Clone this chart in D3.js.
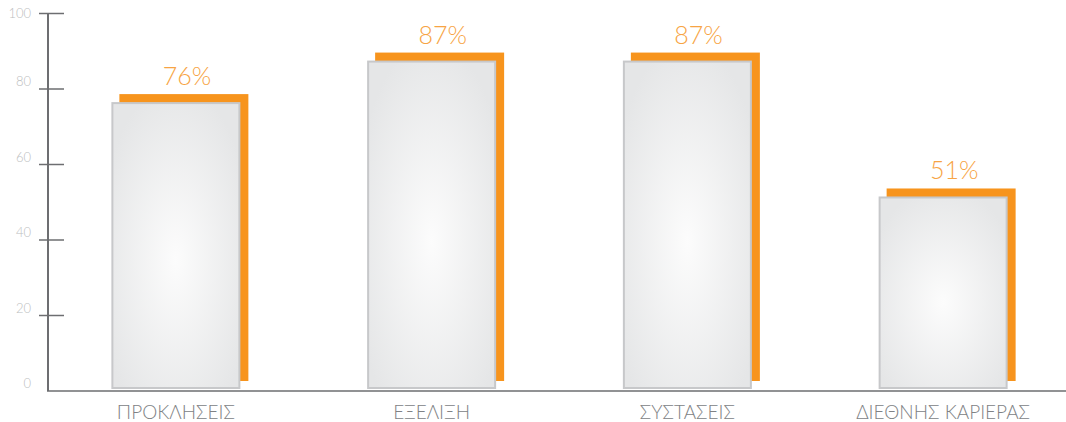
<!DOCTYPE html>
<html>
<head>
<meta charset="utf-8">
<script src="https://cdn.jsdelivr.net/npm/d3@7"></script>
<style>
  html, body { margin: 0; padding: 0; background: #fff; }
  svg { display: block; }
  text { font-family: "Lato Light", "Lato", "Open Sans", sans-serif; font-weight: 300; }
</style>
</head>
<body>
<svg id="chart" width="1066" height="422"></svg>
<script>
// Share of responses per topic (%)
const categories = ["ΠΡΟΚΛΗΣΕΙΣ", "ΕΞΕΛΙΞΗ", "ΣΥΣΤΑΣΕΙΣ", "ΔΙΕΘΝΗΣ ΚΑΡΙΕΡΑΣ"];
const values = [76, 87, 87, 51];
const tickValues = [0, 20, 40, 60, 80, 100];

const W = 1066, H = 422;
const svg = d3.select("#chart");

const axisColor = "#6d6e71";
const orange = "#f7941d";

const y = d3.scaleLinear().domain([0, 100]).range([391, 13.5]);
const x = d3.scaleBand().domain(categories).range([48, 1071]).padding(0);
const barW = 129;
const barLift = 2;          // bars sit just above the baseline
const shadowDx = 8, shadowDy = 8;

// gradient fill for the grey bars
const defs = svg.append("defs");
const grad = defs.append("radialGradient")
  .attr("id", "barFill")
  .attr("cx", "50%").attr("cy", "55%").attr("r", "62%");
grad.append("stop").attr("offset", "0%").attr("stop-color", "#fcfcfc");
grad.append("stop").attr("offset", "100%").attr("stop-color", "#e5e6e7");

const bars = svg.append("g").selectAll("g").data(categories).join("g");

// orange offset block behind each bar
bars.append("rect")
  .attr("x", d => x(d) + x.bandwidth() / 2 - barW / 2 + shadowDx)
  .attr("y", (d, i) => y(values[i]) - barLift - shadowDy)
  .attr("width", barW)
  .attr("height", (d, i) => y(0) - y(values[i]))
  .attr("fill", orange);

// grey bar
bars.append("rect")
  .attr("x", d => x(d) + x.bandwidth() / 2 - barW / 2 + 1)
  .attr("y", (d, i) => y(values[i]) - barLift + 1)
  .attr("width", barW - 2)
  .attr("height", (d, i) => y(0) - y(values[i]) - 2)
  .attr("fill", "url(#barFill)")
  .attr("stroke", "#c7c8ca")
  .attr("stroke-width", 2);

// value labels
bars.append("text")
  .attr("x", d => x(d) + x.bandwidth() / 2 + shadowDx + 3)
  .attr("y", (d, i) => y(values[i]) - barLift - shadowDy - 9)
  .attr("text-anchor", "middle")
  .attr("fill", "#f7a444")
  .attr("font-size", 25)
  .text((d, i) => values[i] + "%");

// category labels
bars.append("text")
  .attr("x", d => x(d) + x.bandwidth() / 2)
  .attr("y", 419)
  .attr("text-anchor", "middle")
  .attr("fill", "#808285")
  .attr("font-size", 19)
  .text(d => d);

// y axis
const yAxis = svg.append("g");
yAxis.append("line")
  .attr("x1", 48).attr("x2", 48)
  .attr("y1", y(100)).attr("y2", y(0))
  .attr("stroke", axisColor).attr("stroke-width", 2);
yAxis.selectAll(".tick").data(tickValues.filter(t => t > 0)).join("line")
  .attr("x1", 39).attr("x2", 64)
  .attr("y1", d => y(d)).attr("y2", d => y(d))
  .attr("stroke", axisColor).attr("stroke-width", 1.5);
yAxis.selectAll("text").data(tickValues).join("text")
  .attr("x", 31)
  .attr("y", d => Math.max(y(d) - 3, 18))
  .attr("text-anchor", "end")
  .attr("fill", "#bcbec0")
  .attr("font-size", 13)
  .text(d => d);

// x baseline
svg.append("line")
  .attr("x1", 47).attr("x2", W)
  .attr("y1", y(0)).attr("y2", y(0))
  .attr("stroke", axisColor).attr("stroke-width", 1.5);
</script>
</body>
</html>
